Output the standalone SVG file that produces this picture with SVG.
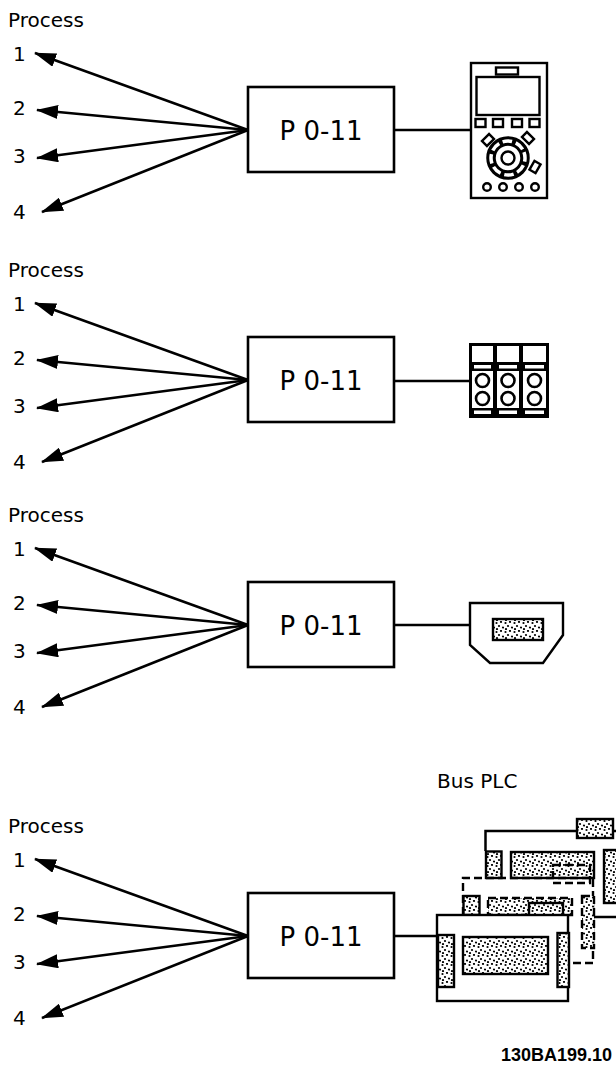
<svg xmlns="http://www.w3.org/2000/svg" width="616" height="1068" viewBox="0 0 616 1068">
<defs>
<marker id="ah" viewBox="0 0 22 14" refX="21" refY="7" markerWidth="22" markerHeight="14" markerUnits="userSpaceOnUse" orient="auto">
<path d="M0,0 L22,7 L0,14 z" fill="#000"/>
</marker>
<pattern id="dots" width="9" height="9" patternUnits="userSpaceOnUse">
<rect width="9" height="9" fill="#fff"/>
<circle cx="1.5" cy="2" r="1.1" fill="#000"/>
<circle cx="6" cy="1" r="1.1" fill="#000"/>
<circle cx="4" cy="5" r="1.1" fill="#000"/>
<circle cx="8" cy="6.5" r="1.1" fill="#000"/>
<circle cx="2" cy="8" r="1.1" fill="#000"/>
</pattern>
<g id="box">
<rect x="248" y="87" width="146" height="85" fill="#fff" stroke="#000" stroke-width="2.6"/>
<text x="321" y="140" class="pt">P 0-11</text>
</g>
<g id="fan" stroke="#000" stroke-width="2.5">
<line x1="248" y1="130" x2="35" y2="53" marker-end="url(#ah)"/>
<line x1="248" y1="130" x2="37" y2="110" marker-end="url(#ah)"/>
<line x1="248" y1="130" x2="37" y2="158" marker-end="url(#ah)"/>
<line x1="248" y1="130" x2="42" y2="212" marker-end="url(#ah)"/>
</g>
<g id="labels">
<text x="8" y="27" class="t">Process</text>
<text x="13" y="61" class="t">1</text>
<text x="13" y="115" class="t">2</text>
<text x="13" y="163" class="t">3</text>
<text x="13" y="219" class="t">4</text>
</g>
</defs>
<style>
.t{font-family:"DejaVu Sans","Verdana",sans-serif;font-size:20px;fill:#000}
.pt{font-family:"DejaVu Sans","Verdana",sans-serif;font-size:26px;fill:#000;text-anchor:middle}
.ln{stroke:#000;stroke-width:2.5;fill:none}
.s{stroke:#000;stroke-width:2.4;fill:#fff}
.d{stroke:#000;stroke-width:2.4;fill:url(#dots)}
.dash{stroke:#000;stroke-width:2.4;fill:none;stroke-dasharray:8 4}
.dashd{stroke:#000;stroke-width:2.4;fill:url(#dots);stroke-dasharray:8 4}
.lbl{font-family:"Liberation Sans",Arial,sans-serif;font-size:18px;font-weight:bold;fill:#000;text-anchor:end}
</style>
<rect width="616" height="1068" fill="#fff"/>

<g id="connectors">
<use href="#fan"/>
<use href="#fan" transform="translate(0,250)"/>
<use href="#fan" transform="translate(0,495)"/>
<use href="#fan" transform="translate(0,806)"/>
<line class="ln" x1="394" y1="130" x2="471" y2="130"/>
<line class="ln" x1="394" y1="381" x2="469" y2="381"/>
<line class="ln" x1="394" y1="625" x2="470" y2="625"/>
<line class="ln" x1="394" y1="936" x2="437" y2="936"/>
</g>

<g id="labels1"><use href="#labels"/></g>
<g id="labels2" transform="translate(0,250)"><use href="#labels"/></g>
<g id="labels3" transform="translate(0,495)"><use href="#labels"/></g>
<g id="labels4" transform="translate(0,806)"><use href="#labels"/></g>

<g id="p011-1"><use href="#box"/></g>
<g id="p011-2" transform="translate(0,250)"><use href="#box"/></g>
<g id="p011-3" transform="translate(0,495)"><use href="#box"/></g>
<g id="p011-4" transform="translate(0,806)"><use href="#box"/></g>

<g id="lcp">
<rect x="471" y="63" width="76" height="135" class="s"/>
<rect x="496" y="67.5" width="22" height="7" class="s"/>
<rect x="476.5" y="77" width="63" height="38" class="s"/>
<rect x="475.5" y="119" width="10" height="8" class="s"/>
<rect x="493" y="119" width="10" height="8" class="s"/>
<rect x="512" y="119" width="10" height="8" class="s"/>
<rect x="529.5" y="119" width="10" height="8" class="s"/>
<rect x="483" y="136.5" width="10" height="7" class="s" transform="rotate(-45 488 140)"/>
<rect x="523" y="134.5" width="10" height="7" class="s" transform="rotate(45 528 138)"/>
<rect x="530" y="163.5" width="10" height="7" class="s" transform="rotate(-60 535 167)"/>
<circle cx="508" cy="158" r="17" fill="none" stroke="#000" stroke-width="9.5"/>
<circle cx="508" cy="158" r="17" fill="none" stroke="#fff" stroke-width="3.5" stroke-dasharray="9.5 3.85" transform="rotate(-20 508 158)"/>
<circle cx="508" cy="158" r="6.5" class="s"/>
<circle cx="487" cy="187" r="3.8" class="s"/>
<circle cx="503" cy="187" r="3.8" class="s"/>
<circle cx="519" cy="187" r="3.8" class="s"/>
<circle cx="535" cy="187" r="3.8" class="s"/>
</g>

<g id="terminal">
<rect x="469" y="343" width="80" height="75" fill="#000"/>
<rect x="472" y="346" width="21" height="16" fill="#fff"/>
<rect x="497" y="346" width="22" height="16" fill="#fff"/>
<rect x="523" y="346" width="23" height="16" fill="#fff"/>
<rect x="474" y="365" width="17" height="3.5" fill="#fff"/>
<rect x="499" y="365" width="18" height="3.5" fill="#fff"/>
<rect x="525" y="365" width="19" height="3.5" fill="#fff"/>
<rect x="472" y="371" width="21" height="37" fill="#fff"/>
<rect x="497" y="371" width="22" height="37" fill="#fff"/>
<rect x="523" y="371" width="23" height="37" fill="#fff"/>
<rect x="474" y="410.5" width="17" height="3.5" fill="#fff"/>
<rect x="499" y="410.5" width="18" height="3.5" fill="#fff"/>
<rect x="525" y="410.5" width="19" height="3.5" fill="#fff"/>
<circle cx="482.5" cy="380.5" r="6.5" fill="none" stroke="#000" stroke-width="2.6"/>
<circle cx="508" cy="380.5" r="6.5" fill="none" stroke="#000" stroke-width="2.6"/>
<circle cx="534.5" cy="380.5" r="6.5" fill="none" stroke="#000" stroke-width="2.6"/>
<circle cx="482.5" cy="398.5" r="6.5" fill="none" stroke="#000" stroke-width="2.6"/>
<circle cx="508" cy="398.5" r="6.5" fill="none" stroke="#000" stroke-width="2.6"/>
<circle cx="534.5" cy="398.5" r="6.5" fill="none" stroke="#000" stroke-width="2.6"/>
</g>

<g id="usb">
<path d="M470,603 H563 V635 L543,663 H490 L470,645 Z" class="s"/>
<rect x="493" y="619" width="50" height="21" class="d"/>
</g>

<g id="bus-plc">
<text x="437" y="788" class="t">Bus PLC</text>
<path d="M485.5,851 V831 H577" class="ln"/>
<line x1="613" y1="831" x2="616" y2="831" class="ln"/>
<rect x="577" y="819" width="36" height="19" class="d"/>
<rect x="486" y="851.5" width="15.5" height="26.5" class="d"/>
<rect x="511" y="852" width="83" height="26" class="d"/>
<rect x="553" y="865" width="37" height="18" class="dash"/>
<rect x="604" y="850" width="14" height="53" class="d"/>
<path d="M463,915 V878 H593 V963 H569" class="dash"/>
<rect x="463.5" y="896" width="16" height="19" class="d"/>
<rect x="488" y="898" width="84" height="17" class="dashd"/>
<rect x="529" y="903" width="34" height="17" class="d"/>
<rect x="582" y="896" width="12" height="52" class="dashd"/>
<line x1="594" y1="917" x2="616" y2="917" class="ln"/>
<rect x="437" y="915" width="131" height="86" class="s"/>
<rect x="438" y="935" width="16" height="52" class="d"/>
<rect x="557.5" y="933" width="11.5" height="54" class="d"/>
<rect x="463" y="937" width="85" height="37" class="d"/>
</g>

<text x="612" y="1061" class="lbl">130BA199.10</text>
</svg>
